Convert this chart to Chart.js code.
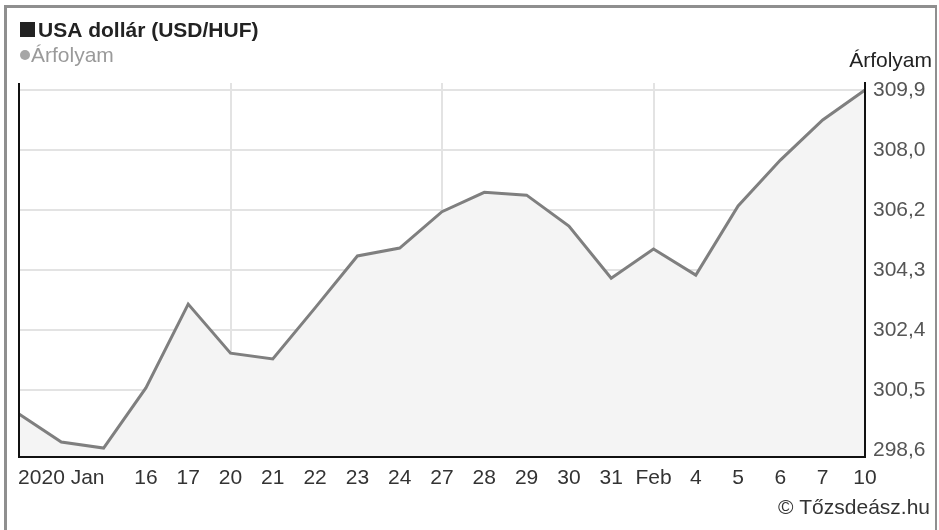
<!DOCTYPE html>
<html>
<head>
<meta charset="utf-8">
<script src="https://cdn.jsdelivr.net/npm/chart.js@4/dist/chart.umd.min.js"></script>
<style>
  html, body { margin: 0; padding: 0; background: #fff; overflow: hidden; }
  #wrap { position: relative; width: 939px; height: 530px; }
  #frame { position: absolute; left: 4px; top: 5px; right: 2px; bottom: -10px;
           border: 3px solid #8f8f8f; border-right-width: 2px; pointer-events: none; }
</style>
</head>
<body>
<div id="wrap">
  <canvas id="chart" width="939" height="530"></canvas>
  <div id="frame"></div>
</div>
<script>
// USD/HUF napi árfolyam, 2020. jan. 13 – febr. 10
const days = ['01-13', '01-14', '01-15', '01-16', '01-17', '01-20', '01-21', '01-22', '01-23', '01-24',
  '01-27', '01-28', '01-29', '01-30', '01-31', '02-03', '02-04', '02-05', '02-06', '02-07', '02-10'];
const rates = [299.73, 298.85, 298.66, 300.55, 303.18, 301.64, 301.46, 303.06, 304.69, 304.94,
  306.08, 306.69, 306.60, 305.63, 303.99, 304.91, 304.09, 306.26, 307.70, 308.96, 309.90];
const xTickLabels = ['', '2020 Jan', '', '16', '17', '20', '21', '22', '23', '24',
  '27', '28', '29', '30', '31', 'Feb', '4', '5', '6', '7', '10'];
const yTicks = [298.6, 300.48, 302.37, 304.25, 306.13, 308.02, 309.9];
const yTickLabels = ['298,6', '300,5', '302,4', '304,3', '306,2', '308,0', '309,9'];
const weekStarts = [0, 5, 10, 15];

const FONT = '"Liberation Sans", Arial, sans-serif';
Chart.defaults.font.family = FONT;

// fejléc, jelmagyarázat, bal oldali tengelyvonal, forrás
const decorations = {
  id: 'decorations',
  afterDraw(chart) {
    const { ctx, chartArea } = chart;
    ctx.save();
    ctx.strokeStyle = '#111';
    ctx.lineWidth = 2;
    ctx.beginPath();
    ctx.moveTo(chartArea.left, chartArea.top);
    ctx.lineTo(chartArea.left, chartArea.bottom);
    ctx.stroke();

    ctx.fillStyle = '#222';
    ctx.fillRect(20, 22, 15, 15);
    ctx.font = 'bold 21px ' + FONT;
    ctx.textBaseline = 'alphabetic';
    ctx.fillText('USA dollár (USD/HUF)', 38, 37);

    ctx.fillStyle = '#a6a6a6';
    ctx.beginPath();
    ctx.arc(25, 55, 5, 0, Math.PI * 2);
    ctx.fill();
    ctx.font = '21px ' + FONT;
    ctx.fillStyle = '#9a9a9a';
    ctx.fillText('Árfolyam', 31, 62);

    ctx.textAlign = 'right';
    ctx.fillStyle = '#222';
    ctx.fillText('Árfolyam', 932, 67);
    ctx.fillStyle = '#333';
    ctx.fillText('© Tőzsdeász.hu', 930, 514);
    ctx.restore();
  }
};

new Chart(document.getElementById('chart'), {
  type: 'line',
  data: {
    labels: days,
    datasets: [{
      label: 'Árfolyam',
      data: rates,
      borderColor: '#7f7f7f',
      borderWidth: 3,
      backgroundColor: '#f4f4f4',
      fill: 'start',
      pointRadius: 0,
      tension: 0
    }]
  },
  options: {
    responsive: false,
    animation: false,
    layout: { padding: { top: 83, left: 19, right: 0, bottom: 0 } },
    plugins: { legend: { display: false }, tooltip: { enabled: false } },
    scales: {
      x: {
        offset: false,
        afterFit: s => { s.height = 73; },
        ticks: {
          autoSkip: false, maxRotation: 0, padding: 9, color: '#333',
          font: { size: 21 },
          callback: (v, i) => xTickLabels[i]
        },
        grid: {
          drawTicks: false, lineWidth: 2,
          color: c => weekStarts.includes(c.index) ? '#e3e3e3' : 'rgba(0,0,0,0)'
        },
        border: { color: '#111', width: 2, z: 1 }
      },
      y: {
        position: 'right',
        min: 298.38,
        max: 310.12,
        afterBuildTicks: s => { s.ticks = yTicks.map(v => ({ value: v })); },
        afterFit: s => { s.width = 74; },
        ticks: {
          padding: 8, color: '#555', font: { size: 21 },
          callback: (v, i) => yTickLabels[i]
        },
        grid: { drawTicks: false, lineWidth: 2, color: '#e3e3e3' },
        border: { color: '#111', width: 2, z: 1 }
      }
    }
  },
  plugins: [decorations]
});
</script>
</body>
</html>
